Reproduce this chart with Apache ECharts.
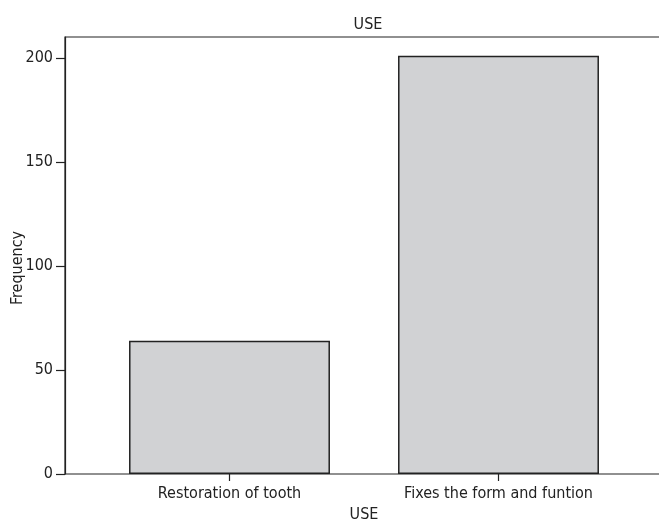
<!DOCTYPE html>
<html><head><meta charset="utf-8">
<script src="https://cdn.jsdelivr.net/npm/echarts@6/dist/echarts.min.js"></script>
<style>html,body{margin:0;padding:0;background:#fff}#c{width:659px;height:520px}</style>
</head><body><div id="c"></div>
<script>
const categories = ["Restoration of tooth", "Fixes the form and funtion"];
const frequency = [64, 201];
const yTicks = [0, 50, 100, 150, 200];
const titleText = "USE";
const xName = "USE";
const yName = "Frequency";

const FONT = '"DejaVu Sans Condensed", serif';
const FS = 16;
const chart = echarts.init(document.getElementById('c'), null, {renderer: 'canvas'});
chart.setOption({
  animation: false,
  backgroundColor: '#fff',
  textStyle: {fontFamily: FONT},
  title: {text: titleText, left: 363, top: 12, textAlign: 'center',
    textStyle: {fontFamily: FONT, fontSize: FS, fontWeight: 'normal', color: '#222'}},
  grid: [
    {left: 65, right: -5, top: 37, bottom: 46, show: true, borderColor: '#222', borderWidth: 1.2,
      backgroundColor: 'transparent', outerBoundsMode: 'none', containLabel: false},
    {left: 95, width: 538, top: 37, bottom: 46, outerBoundsMode: 'none', containLabel: false}
  ],
  xAxis: [
    {gridIndex: 0, type: 'value', min: 0, max: 1, show: false},
    {gridIndex: 1, type: 'category', data: categories,
      axisLine: {show: false},
      axisTick: {show: true, alignWithLabel: true, length: 7, lineStyle: {color: '#222', width: 1.2}},
      axisLabel: {color: '#222', fontSize: FS, fontFamily: FONT, margin: 12},
      name: xName, nameLocation: 'middle', nameGap: 30,
      nameTextStyle: {color: '#222', fontSize: FS, fontFamily: FONT}}
  ],
  yAxis: [
    {gridIndex: 0, type: 'value', min: 0, max: 210, interval: 50,
      axisLine: {show: true, lineStyle: {color: '#222', width: 1.2}},
      axisTick: {show: true, length: 9, lineStyle: {color: '#222', width: 1.2},
        customValues: yTicks},
      axisLabel: {color: '#222', fontSize: FS, fontFamily: FONT, margin: 12,
        customValues: yTicks},
      splitLine: {show: false}},
    {gridIndex: 1, type: 'value', min: 0, max: 210, show: false}
  ],
  graphic: [{
    type: 'text', x: 18, y: 268, rotation: Math.PI / 2,
    style: {text: yName, fill: '#222', font: FS + 'px ' + FONT, align: 'center', verticalAlign: 'middle'}
  }],
  series: [{
    type: 'bar', xAxisIndex: 1, yAxisIndex: 1, data: frequency,
    barWidth: '74.7%',
    itemStyle: {color: '#d1d2d4', borderColor: '#222', borderWidth: 1.5}
  }]
});
</script></body></html>
